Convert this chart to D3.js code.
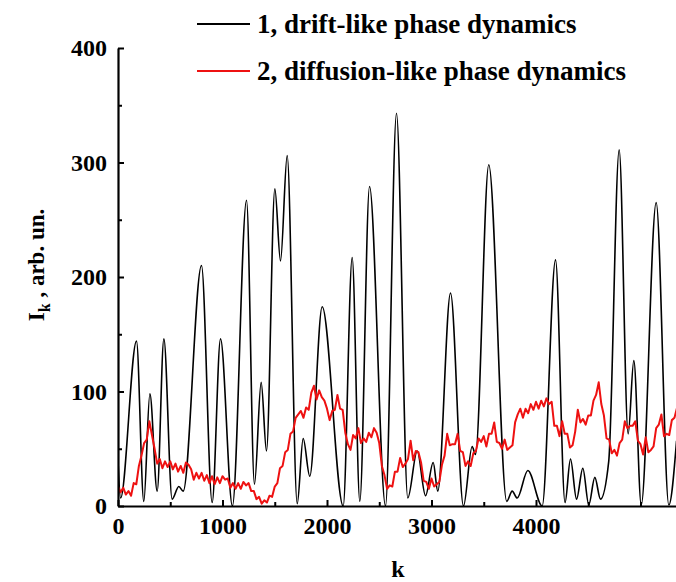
<!DOCTYPE html>
<html>
<head>
<meta charset="utf-8">
<script src="https://cdnjs.cloudflare.com/ajax/libs/d3/7.8.5/d3.min.js"></script>
<style>
  body { margin: 0; background: #fff; }
  text { font-family: "Liberation Serif", "Times New Roman", serif; font-weight: bold; }
</style>
</head>
<body>
<div id="chart"></div>
<script>
// curve 1: drift-like, key points (k, I)
var driftK = [0, 25, 177, 247, 305, 375, 439, 518, 582, 624, 799, 901, 981, 1095, 1230, 1306, 1370, 1421, 1501, 1555, 1619, 1715, 1772, 1835, 1954, 2155, 2241, 2314, 2407, 2560, 2665, 2773, 2863, 2943, 3016, 3060, 3182, 3306, 3389, 3421, 3548, 3720, 3772, 3820, 3922, 4059, 4187, 4278, 4330, 4388, 4448, 4505, 4563, 4617, 4696, 4796, 4882, 4936, 5007, 5150, 5271, 5345];
var driftI = [40, 7, 144, 4, 98, 13, 146, 6, 17, 13, 210, 3, 146, 0, 267, 19, 108, 48, 277, 214, 306, 2, 59, 26, 174, 0, 217, 4, 279, 0, 343, 7, 48, 9, 38, 13, 186, 0, 52, 45, 298, 4, 13, 7, 31, 0, 215, 3, 41, 6, 33, 1, 25, 6, 39, 311, 63, 127, 1, 265, 1, 57];

// curve 2: diffusion-like, one value every 25 steps of k
var diffStep = 25;
var diffI = [17, 12, 16, 10, 13, 9, 20, 19, 35, 44, 55, 58, 74, 62, 50, 37, 41, 33, 39, 34,
  39, 32, 37, 30, 35, 29, 38, 36, 32, 23, 29, 24, 29, 22, 27, 20, 26, 19, 25, 20,
  26, 23, 24, 16, 20, 15, 20, 15, 21, 18, 20, 13, 13, 6, 8, 2, 5, 3, 9, 8,
  17, 20, 33, 35, 47, 49, 63, 65, 77, 80, 83, 77, 86, 84, 99, 105, 93, 101, 95, 92,
  85, 75, 83, 84, 97, 85, 84, 64, 54, 49, 62, 59, 68, 55, 59, 56, 64, 60, 68, 64,
  55, 35, 27, 15, 18, 17, 30, 30, 42, 34, 37, 41, 57, 40, 48, 47, 38, 22, 21, 15,
  24, 17, 19, 21, 36, 44, 63, 53, 54, 54, 63, 48, 47, 35, 39, 35, 46, 48, 59, 56,
  61, 52, 63, 63, 73, 56, 55, 50, 58, 49, 51, 53, 73, 80, 85, 77, 85, 81, 89, 84,
  91, 85, 92, 87, 94, 89, 91, 70, 70, 61, 74, 63, 63, 51, 53, 65, 84, 73, 76, 71,
  79, 79, 92, 97, 108, 89, 79, 59, 58, 46, 49, 44, 55, 58, 74, 68, 70, 70, 74, 57,
  54, 45, 60, 47, 49, 52, 68, 71, 80, 61, 63, 62, 75, 77, 86];

var xTicks = [0, 1000, 2000, 3000, 4000];
var xMinor = [500, 1500, 2500, 3500, 4500, 5000];
var yTicks = [0, 100, 200, 300, 400];
var yMinor = [50, 150, 250, 350];

var width = 676,
    height = 582;

var svg = d3.select("#chart").append("svg")
    .attr("width", width)
    .attr("height", height);

var x = d3.scaleLinear()
    .domain([0, 5350])
    .range([118, 118 + 5350 * 0.1045]);

var y = d3.scaleLinear()
    .domain([0, 400])
    .range([506, 48]);

svg.append("clipPath")
    .attr("id", "plot")
    .append("rect")
    .attr("x", 118)
    .attr("y", 0)
    .attr("width", width - 118)
    .attr("height", 506);

var drift = driftK.map(function(k, i) { return [k, driftI[i]]; });
var diff = diffI.map(function(v, i) { return [i * diffStep, v]; });

var line = d3.line()
    .x(function(d) { return x(d[0]); })
    .y(function(d) { return y(d[1]); });

svg.append("path")
    .datum(drift)
    .attr("clip-path", "url(#plot)")
    .attr("fill", "none")
    .attr("stroke", "#000")
    .attr("stroke-width", 1.6)
    .attr("d", line.curve(d3.curveMonotoneX));

svg.append("path")
    .datum(diff)
    .attr("clip-path", "url(#plot)")
    .attr("fill", "none")
    .attr("stroke", "#ee1111")
    .attr("stroke-width", 2)
    .attr("stroke-linejoin", "round")
    .attr("d", line.curve(d3.curveLinear));

// Axes
svg.append("g")
    .attr("transform", "translate(0,506)")
    .call(d3.axisBottom(x).tickValues(xTicks).tickFormat(d3.format("d"))
        .tickSize(-6).tickSizeOuter(0).tickPadding(11));

svg.append("g")
    .attr("transform", "translate(0,506)")
    .call(d3.axisBottom(x).tickValues(xMinor).tickSize(-4).tickFormat(""))
    .select(".domain").remove();

svg.append("g")
    .attr("transform", "translate(118,0)")
    .call(d3.axisLeft(y).tickValues(yTicks).tickSize(-6).tickSizeOuter(0).tickPadding(11));

svg.append("g")
    .attr("transform", "translate(118,0)")
    .call(d3.axisLeft(y).tickValues(yMinor).tickSize(-4).tickFormat(""))
    .select(".domain").remove();

svg.selectAll(".domain").attr("stroke-width", 2.2);
svg.selectAll(".tick line").attr("stroke-width", 2);
svg.selectAll(".tick text")
    .attr("font-family", "Liberation Serif, serif")
    .attr("font-weight", "bold")
    .attr("font-size", 24)
    .attr("fill", "#000");

// Axis titles
svg.append("text")
    .attr("x", 398)
    .attr("y", 577)
    .attr("text-anchor", "middle")
    .attr("font-size", 24)
    .text("k");

var yt = svg.append("text")
    .attr("transform", "translate(44,265) rotate(-90)")
    .attr("text-anchor", "middle")
    .attr("font-size", 23);
yt.append("tspan").text("I");
yt.append("tspan").attr("font-size", 16).attr("dy", 6).text("k");
yt.append("tspan").attr("dy", -6).text(" , arb. un.");

// Legend
var legend = [
    {label: "1, drift-like phase dynamics", color: "#000"},
    {label: "2, diffusion-like phase dynamics", color: "#ee1111"}
];

var lg = svg.append("g").attr("id", "legend");

lg.selectAll("line")
    .data(legend)
    .enter().append("line")
    .attr("x1", 197)
    .attr("x2", 250)
    .attr("y1", function(d, i) { return 24 + i * 47; })
    .attr("y2", function(d, i) { return 24 + i * 47; })
    .attr("stroke", function(d) { return d.color; })
    .attr("stroke-width", 1.8);

lg.selectAll("text")
    .data(legend)
    .enter().append("text")
    .attr("x", 257)
    .attr("y", function(d, i) { return 33 + i * 47; })
    .attr("font-size", 27)
    .text(function(d) { return d.label; });
</script>
</body>
</html>
